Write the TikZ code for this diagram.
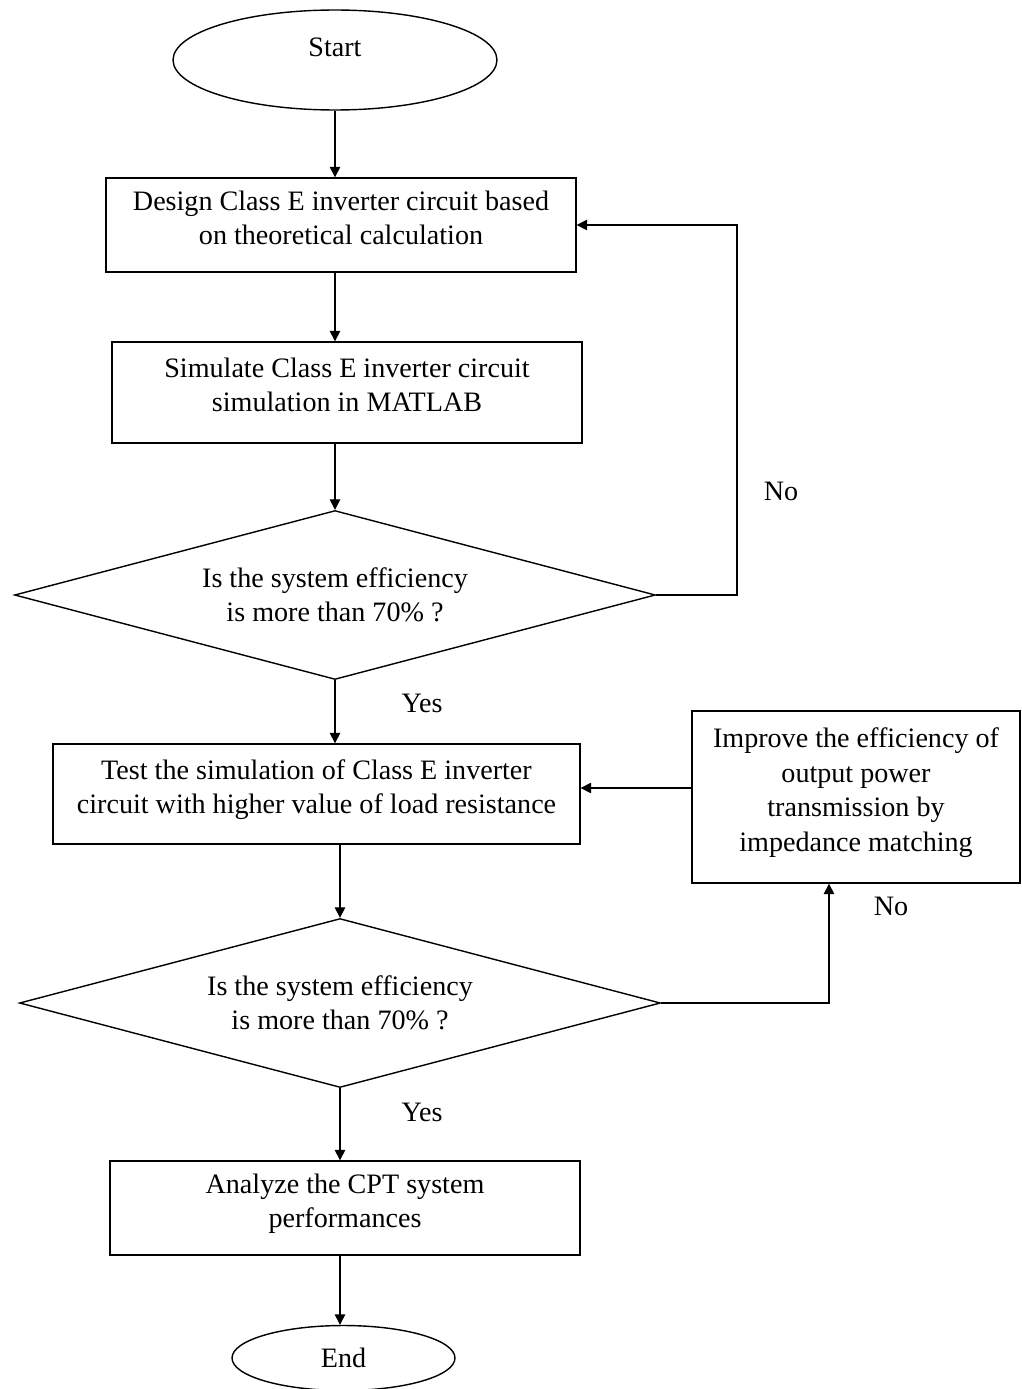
\documentclass[tikz,border=0pt]{standalone}
\usepackage{fontspec}
\setmainfont{Liberation Serif}
\usepackage{tikz}
\usetikzlibrary{arrows.meta, shapes.geometric}

\begin{document}
\begin{tikzpicture}[x=0.02cm, y=-0.02cm, >={Triangle[length=6pt, width=6pt]}, line width=0.8pt,
  every node/.style={font=\fontsize{16}{19.6}\selectfont},
  procbox/.style={draw, rectangle, inner sep=0pt, align=center, text depth=0.3cm},
  termbox/.style={draw, ellipse, inner sep=0pt},
  askbox/.style={draw, diamond, shape aspect=3.8, inner sep=0pt, align=center,
                 minimum width=12.82cm, minimum height=3.38cm}]
  \useasboundingbox (0,0) rectangle (1021,1389);

  \node[termbox, minimum width=6.48cm, minimum height=2cm, text depth=0.5cm] (start) at (335,60) {Start};
  \node[procbox, minimum width=9.4cm, minimum height=1.88cm] (design) at (341,225)
    {Design Class E inverter circuit based\\on theoretical calculation};
  \node[procbox, minimum width=9.4cm, minimum height=2.02cm] (simulate) at (347,392.5)
    {Simulate Class E inverter circuit\\simulation in MATLAB};
  \node[askbox] (check1) at (335,595) {Is the system efficiency\\is more than 70\% ?};
  \node[procbox, minimum width=10.54cm, minimum height=2cm] (test) at (316.5,794)
    {Test the simulation of Class E inverter\\circuit with higher value of load resistance};
  \node[procbox, minimum width=6.56cm, minimum height=3.44cm] (improve) at (856,797)
    {Improve the efficiency of\\output power\\transmission by\\impedance matching};
  \node[askbox] (check2) at (340,1003) {Is the system efficiency\\is more than 70\% ?};
  \node[procbox, minimum width=9.4cm, minimum height=1.88cm] (analyze) at (345,1208)
    {Analyze the CPT system\\performances};
  \node[termbox, minimum width=4.46cm, minimum height=1.3cm] (end) at (343.5,1358) {End};

  \node (no1) at (781,491) {No};
  \node (yes1) at (422,703) {Yes};
  \node (no2) at (891,906) {No};
  \node (yes2) at (422,1112) {Yes};

  \coordinate (turn1) at (737,595);
  \coordinate (turn2) at (829,1003);

  \draw[->] (start) -- (design.north -| start);
  \draw[->] (design.south -| check1) -- (simulate.north -| check1);
  \draw[->] (simulate.south -| check1) -- (check1.north);
  \draw[->] (check1.south) -- (test.north -| check1);
  \draw[->] (check1.east) -- (turn1) |- (design.east);
  \draw[->] (test.south -| check2) -- (check2.north);
  \draw[->] (check2.east) -- (turn2) -- (turn2 |- improve.south);
  \draw[->] ([yshift=0.18cm]improve.west) -- ([yshift=0.18cm]improve.west -| test.east);
  \draw[->] (check2.south) -- (analyze.north -| check2);
  \draw[->] (analyze.south -| check2) -- (end.north -| check2);
\end{tikzpicture}
\end{document}
